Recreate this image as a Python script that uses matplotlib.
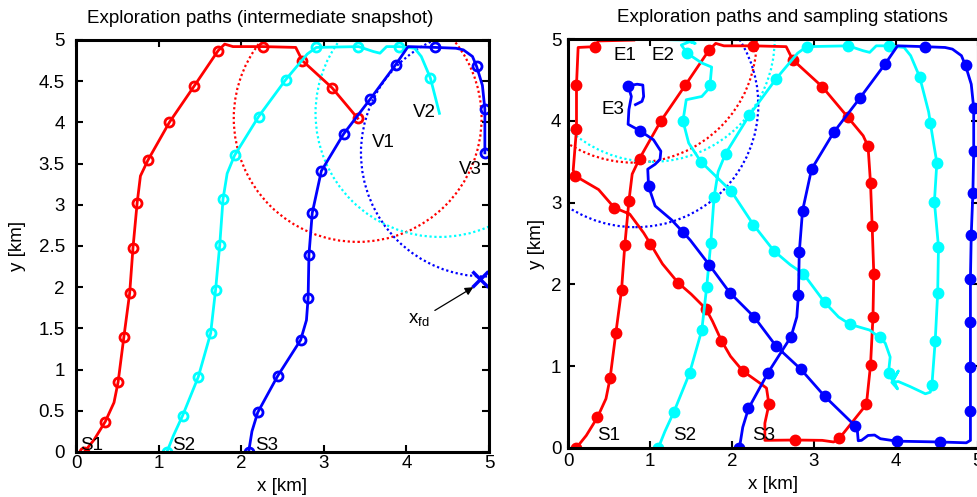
import numpy as np
import matplotlib.pyplot as plt
from matplotlib.patches import Circle

plt.rcParams['font.family'] = ['Liberation Sans', 'DejaVu Sans']
plt.rcParams['mathtext.fontset'] = 'custom'
plt.rcParams['mathtext.rm'] = 'Liberation Sans'

# full vehicle paths [km]; the left panel shows only the first n_snap points
red_x = [0.10, 0.22, 0.355, 0.46, 0.51, 0.58, 0.65, 0.69, 0.74, 0.78, 0.87, 1.13, 1.43, 1.72, 1.80, 1.90,
         2.26, 2.66, 2.74, 3.10, 3.41,
         3.60, 3.66, 3.69, 3.71, 3.73, 3.72, 3.69, 3.64, 3.31, 3.24, 3.10, 2.77, 2.40, 2.40, 2.45, 2.42,
         2.34, 2.13, 1.98, 1.87, 1.76, 1.68, 1.50, 1.34, 1.15, 1.00, 0.92, 0.75, 0.56, 0.37, 0.08, 0.06,
         0.10, 0.10, 0.12, 0.32, 0.37, 0.80]
red_y = [0.00, 0.15, 0.37, 0.60, 0.85, 1.40, 1.93, 2.48, 3.02, 3.35, 3.54, 4.00, 4.44, 4.87, 4.95, 4.92,
         4.92, 4.91, 4.75, 4.42, 4.05,
         3.82, 3.69, 3.24, 2.72, 2.13, 1.60, 1.01, 0.53, 0.115, 0.07, 0.09, 0.094, 0.09, 0.30, 0.53, 0.73,
         0.79, 0.94, 1.12, 1.31, 1.55, 1.70, 1.88, 2.02, 2.25, 2.50, 2.63, 2.86, 2.94, 3.16, 3.33, 3.40,
         3.90, 4.44, 4.90, 4.91, 4.98, 4.99]
red_marks = [0, 2, 4, 5, 6, 7, 8, 10, 11, 12, 13, 16, 18, 19, 20,
             22, 23, 24, 25, 26, 27, 28, 29, 32, 35, 38, 40, 42, 44, 46, 49, 51, 53, 54, 56]
red_snap = 21

cyan_x = [1.10, 1.18, 1.29, 1.48, 1.63, 1.69, 1.74, 1.78, 1.83, 1.92, 2.21, 2.54, 2.80, 2.91, 3.42,
          3.60, 3.68, 3.76, 3.91, 4.10, 4.18, 4.29, 4.40,
          4.42, 4.46, 4.50, 4.47, 4.52, 4.51, 4.48, 4.44, 4.42, 4.36, 4.17, 4.03, 3.95, 4.02, 3.97,
          4.03, 3.96, 3.91, 3.93, 3.87, 3.80, 3.68, 3.44, 3.30, 3.13, 2.87, 2.71, 2.51, 2.26, 1.99,
          1.62, 1.47, 1.40, 1.44, 1.63, 1.71, 1.73, 1.75, 1.63, 1.45, 1.38, 1.48, 1.55, 1.45, 1.02]
cyan_y = [0.00, 0.20, 0.44, 0.91, 1.44, 1.97, 2.51, 3.07, 3.38, 3.60, 4.07, 4.52, 4.83, 4.91, 4.92,
          4.86, 4.84, 4.92, 4.92, 4.90, 4.80, 4.54, 4.11,
          3.98, 3.73, 3.49, 3.01, 2.46, 1.89, 1.31, 0.77, 0.68, 0.66, 0.75, 0.81, 0.80, 0.72, 0.83,
          0.94, 0.82, 0.92, 1.11, 1.28, 1.35, 1.44, 1.51, 1.60, 1.78, 2.13, 2.24, 2.41, 2.73, 3.14,
          3.50, 3.73, 4.00, 4.26, 4.30, 4.39, 4.44, 4.66, 4.71, 4.83, 4.93, 4.97, 4.95, 4.99, 5.00]
cyan_marks = [0, 2, 3, 4, 5, 6, 7, 9, 10, 11, 13, 14, 18, 21,
              23, 25, 26, 27, 28, 29, 30, 40, 43, 45, 47, 48, 50, 51, 52, 53, 55, 59, 62]
cyan_snap = 23

blue_x = [2.09, 2.13, 2.20, 2.44, 2.72, 2.79, 2.81, 2.82, 2.86, 2.97, 3.24, 3.56, 3.87, 4.02, 4.35,
          4.60, 4.69, 4.80, 4.85, 4.92, 4.95, 4.95,
          4.94, 4.92, 4.91, 4.91, 4.91, 4.91, 4.91, 4.86, 4.54, 4.01, 3.81, 3.74, 3.66, 3.58, 3.54,
          3.53, 3.50, 3.13, 2.84, 2.54, 2.27, 1.97, 1.72, 1.49, 1.40, 1.26, 1.06, 0.98, 0.97, 1.06,
          1.12, 1.13, 1.04, 0.875, 0.73, 0.74, 0.77, 0.73, 0.84, 0.91, 0.92, 0.90, 0.82]
blue_y = [0.00, 0.25, 0.48, 0.92, 1.36, 1.60, 1.87, 2.39, 2.90, 3.41, 3.86, 4.28, 4.70, 4.92, 4.91,
          4.90, 4.88, 4.80, 4.68, 4.45, 4.16, 3.63,
          3.12, 2.61, 2.07, 1.54, 0.99, 0.45, 0.09, 0.06, 0.07, 0.08, 0.11, 0.155, 0.15, 0.09, 0.085,
          0.20, 0.27, 0.63, 0.96, 1.24, 1.60, 1.90, 2.24, 2.54, 2.64, 2.79, 2.96, 3.20, 3.41, 3.47,
          3.53, 3.63, 3.77, 3.88, 3.96, 4.14, 4.30, 4.43, 4.45, 4.44, 4.30, 4.24, 4.20]
blue_marks = [0, 2, 3, 4, 6, 7, 8, 9, 10, 11, 12, 14, 18, 20, 21,
              22, 23, 24, 25, 26, 27, 30, 31, 38, 39, 40, 41, 42, 43, 44, 46, 49, 55, 59]
blue_snap = 22

sensor_radius = 1.5
fault_x, fault_y = 4.89, 2.10

paths = [(red_x, red_y, red_marks, red_snap, 'red'),
         (cyan_x, cyan_y, cyan_marks, cyan_snap, 'cyan'),
         (blue_x, blue_y, blue_marks, blue_snap, 'blue')]

fs = 13.5


def draw(ax, full):
    for x, y, marks, snap, col in paths:
        n = len(x) if full else snap
        idx = [i for i in marks if i < n]
        ax.plot(x[:n], y[:n], color=col, lw=2, marker='o', markevery=idx,
                ms=6.5 if full else 6.5, mfc=col if full else 'none', mew=2)
        ax.add_patch(Circle((x[n - 1], y[n - 1]), sensor_radius, fill=False,
                            ec=col, ls=(0, (1, 1.2)), lw=1.6))
    ax.set_xlim(0, 5)
    ax.set_ylim(0, 5)
    ax.set_xticks(range(6))
    for s in ax.spines.values():
        s.set_linewidth(2.2)
    ax.tick_params(direction='in', length=5, width=1.5, top=True, right=True, labelsize=fs)
    ax.set_xlabel('x [km]', fontsize=fs)
    ax.set_ylabel('y [km]', fontsize=fs)


fig = plt.figure(figsize=(9.77, 4.97), dpi=100)

ax1 = fig.add_axes([76 / 977, 45 / 497, 413 / 977, 412 / 497])
draw(ax1, False)
ax1.set_yticks(np.arange(0, 5.01, 0.5))
ax1.set_yticklabels(['0', '0.5', '1', '1.5', '2', '2.5', '3', '3.5', '4', '4.5', '5'])
ax1.tick_params(axis='y', pad=8)
ax1.tick_params(axis='x', pad=2)
ax1.xaxis.set_label_coords(0.5, -0.062)
ax1.yaxis.set_label_coords(-0.12, 0.5)
ax1.text(0.446, 1.053, 'Exploration paths (intermediate snapshot)', transform=ax1.transAxes,
         ha='center', va='center', fontsize=fs)
ax1.plot(fault_x, fault_y, 'x', color='blue', ms=11, mew=2.5)
ax1.annotate('x$_{\\mathrm{fd}}$', xy=(4.81, 2.0), xytext=(4.02, 1.56), fontsize=fs,
             arrowprops=dict(arrowstyle='-|>', color='black', lw=0.9, mutation_scale=12,
                             shrinkA=2, shrinkB=0))
for lab, tx, ty in [('S1', 0.05, 0.03), ('S2', 1.16, 0.03), ('S3', 2.17, 0.03),
                    ('V1', 3.58, 3.70), ('V2', 4.08, 4.06), ('V3', 4.63, 3.37)]:
    ax1.text(tx, ty, lab, fontsize=fs)

ax2 = fig.add_axes([568.3 / 977, 49.3 / 497, 409.5 / 977, 408.4 / 497])
draw(ax2, True)
ax2.set_yticks(range(6))
ax2.tick_params(axis='y', pad=5)
ax2.tick_params(axis='x', pad=4)
ax2.xaxis.set_label_coords(0.5, -0.07)
ax2.yaxis.set_label_coords(-0.058, 0.5)
ax2.text(0.523, 1.053, 'Exploration paths and sampling stations', transform=ax2.transAxes,
         ha='center', va='center', fontsize=fs)
for lab, tx, ty in [('S1', 0.35, 0.09), ('S2', 1.28, 0.09), ('S3', 2.24, 0.09),
                    ('E1', 0.55, 4.75), ('E2', 1.01, 4.75), ('E3', 0.41, 4.08)]:
    ax2.text(tx, ty, lab, fontsize=fs)

fig.savefig('out.png', dpi=100)
